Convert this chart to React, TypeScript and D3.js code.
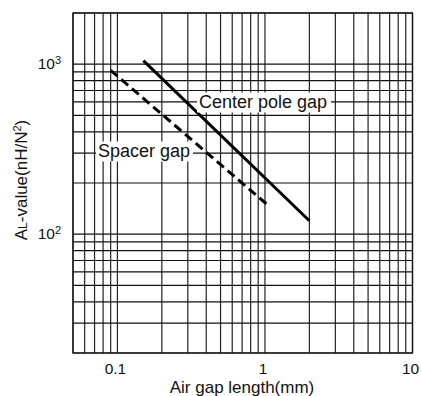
import { useRef, useEffect } from "react";
import * as d3 from "d3";

const centerGapX = [0.15, 2];
const centerGapY = [1050, 120];
const spacerGapX = [0.09, 1.03];
const spacerGapY = [920, 150];

const xTickValues = [0.1, 1, 10];
const xTickLabels = ["0.1", "1", "10"];
const yTickValues = [100, 1000];
const yTickExps = ["2", "3"];

const W = 421;
const H = 396;
const FONT = "'Liberation Sans', Arial, Helvetica, sans-serif";

export default function App() {
  const svgRef = useRef<SVGSVGElement>(null);

  useEffect(() => {
    if (!svgRef.current) return;
    const svg = d3.select(svgRef.current);
    svg.selectAll("*").remove();

    const x = d3.scaleLog().domain([0.05, 10]).range([73, 412.5]);
    const y = d3.scaleLog().domain([20, 2000]).range([353, 13]);

    const g = svg.append("g").attr("font-family", FONT);

    // grid
    x.ticks().forEach((v) => {
      g.append("line").attr("x1", x(v)).attr("x2", x(v)).attr("y1", y(2000)).attr("y2", y(20))
        .attr("stroke", "#222").attr("stroke-width", 1.2);
    });
    y.ticks().forEach((v) => {
      g.append("line").attr("x1", x(0.05)).attr("x2", x(10)).attr("y1", y(v)).attr("y2", y(v))
        .attr("stroke", "#111").attr("stroke-width", 1.2);
    });
    g.append("rect").attr("x", x(0.05)).attr("y", y(2000))
      .attr("width", x(10) - x(0.05)).attr("height", y(20) - y(2000))
      .attr("fill", "none").attr("stroke", "#111").attr("stroke-width", 1.3);

    // curves
    const line = d3.line<[number, number]>().x((d) => x(d[0])).y((d) => y(d[1]));
    const centerPts = centerGapX.map((v, i) => [v, centerGapY[i]] as [number, number]);
    const spacerPts = spacerGapX.map((v, i) => [v, spacerGapY[i]] as [number, number]);
    g.append("path").datum(centerPts).attr("d", line)
      .attr("fill", "none").attr("stroke", "#000").attr("stroke-width", 3);
    g.append("path").datum(spacerPts).attr("d", line)
      .attr("fill", "none").attr("stroke", "#000").attr("stroke-width", 3).attr("stroke-dasharray", "9,5");

    // curve labels with white boxes over the grid
    const labels = [
      { text: "Center pole gap", x: 199, y: 107.5, w: 134 },
      { text: "Spacer gap", x: 98, y: 156.5, w: 97 },
    ];
    labels.forEach((l) => {
      g.append("rect").attr("x", l.x - 2).attr("y", l.y - 15).attr("width", l.w).attr("height", 20)
        .attr("fill", "#fff");
      g.append("text").attr("x", l.x).attr("y", l.y).attr("font-size", 18).attr("fill", "#111").text(l.text);
    });

    // x ticks
    xTickValues.forEach((v, i) => {
      g.append("text").attr("x", x(v) - 2).attr("y", 374).attr("text-anchor", "middle")
        .attr("font-size", 15.5).attr("fill", "#111").text(xTickLabels[i]);
    });

    // y ticks 10^n
    yTickValues.forEach((v, i) => {
      const t = g.append("text").attr("x", 61).attr("y", y(v) + 5).attr("text-anchor", "end")
        .attr("font-size", 15.5).attr("fill", "#111");
      t.append("tspan").text("10");
      t.append("tspan").attr("font-size", 11).attr("dy", -5).text(yTickExps[i]);
    });

    // axis titles
    g.append("text").attr("x", 242).attr("y", 393).attr("text-anchor", "middle")
      .attr("font-size", 17).attr("fill", "#111").text("Air gap length(mm)");

    const yt = g.append("text").attr("transform", "translate(27,180) rotate(-90)")
      .attr("text-anchor", "middle").attr("font-size", 17).attr("fill", "#111");
    yt.append("tspan").text("A");
    yt.append("tspan").attr("font-size", 12).text("L");
    yt.append("tspan").text("-value(nH/N");
    yt.append("tspan").attr("font-size", 11).attr("dy", -6).text("2");
    yt.append("tspan").attr("dy", 6).text(")");
  }, []);

  return (
    <svg ref={svgRef} width={W} height={H}
      style={{ position: "absolute", left: 0, top: 0, background: "#fff" }} />
  );
}
